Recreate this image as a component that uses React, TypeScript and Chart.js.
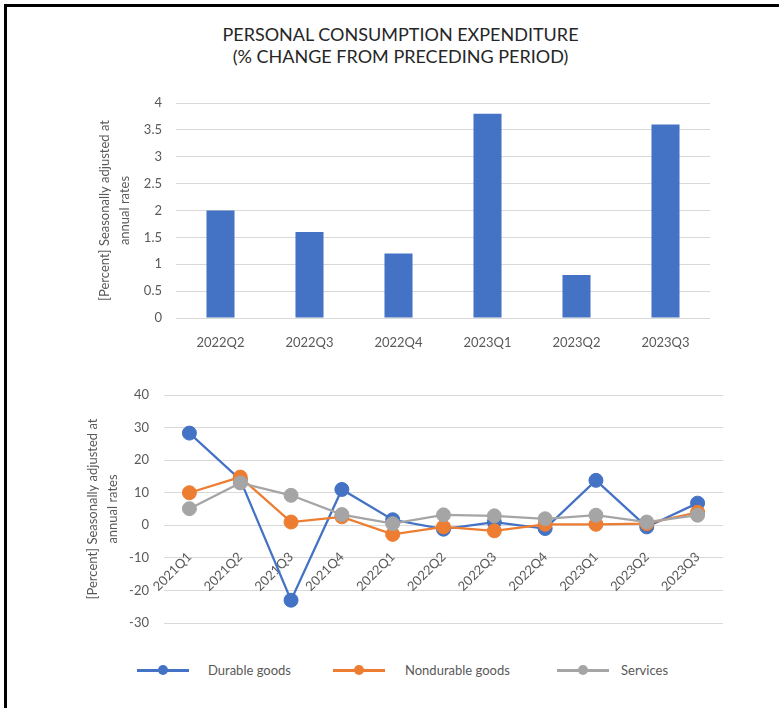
import React, { useEffect, useRef } from "react";
import { Chart, registerables } from "chart.js";
Chart.register(...registerables);

const FONT = 'Lato, "Open Sans", sans-serif';
const TICK_COLOR = "#595959";
const GRID_COLOR = "#D9D9D9";

const titleLines = ["PERSONAL CONSUMPTION EXPENDITURE", "(% CHANGE FROM PRECEDING PERIOD)"];
const axisTitleLines = ["[Percent] Seasonally adjusted at", "annual rates"];

const barCategories = ["2022Q2", "2022Q3", "2022Q4", "2023Q1", "2023Q2", "2023Q3"];
const barValues = [2.0, 1.6, 1.2, 3.8, 0.8, 3.6];
const barAxisMin = 0;
const barAxisMax = 4;
const barAxisStep = 0.5;

const lineCategories = [
  "2021Q1", "2021Q2", "2021Q3", "2021Q4", "2022Q1", "2022Q2",
  "2022Q3", "2022Q4", "2023Q1", "2023Q2", "2023Q3",
];
const durableGoods = [28.3, 14.0, -23.0, 11.0, 1.7, -1.2, 1.0, -1.0, 13.8, -0.5, 6.8];
const nondurableGoods = [10.0, 14.8, 1.0, 2.6, -2.8, -0.5, -1.7, 0.3, 0.3, 0.5, 4.0];
const services = [5.1, 13.0, 9.2, 3.3, 0.5, 3.2, 2.9, 2.0, 3.1, 1.0, 3.1];
const lineAxisMin = -30;
const lineAxisMax = 40;
const lineAxisStep = 10;

const seriesNames = ["Durable goods", "Nondurable goods", "Services"];
const seriesColors = ["#4472C4", "#ED7D31", "#A5A5A5"];

const tickFont = { family: FONT, size: 13 };
const axisTitleFont = { family: FONT, size: 13, lineHeight: 20 / 13 };
const plainNumber = (v: any) => String(Number(v));

function BarChart() {
  const ref = useRef<HTMLCanvasElement | null>(null);
  useEffect(() => {
    if (!ref.current) return;
    const chart = new Chart(ref.current, {
      type: "bar",
      data: {
        labels: barCategories,
        datasets: [
          {
            label: "PCE",
            data: barValues,
            backgroundColor: "#4472C4",
            borderWidth: 0,
            barPercentage: 0.315,
            categoryPercentage: 1,
          },
        ],
      },
      options: {
        animation: false,
        responsive: true,
        maintainAspectRatio: false,
        layout: { padding: { left: 85, top: 103, right: 73, bottom: 0 } },
        plugins: { legend: { display: false }, tooltip: { enabled: false } },
        scales: {
          x: {
            grid: { display: false },
            border: { display: false },
            ticks: { padding: 9, color: TICK_COLOR, font: tickFont },
            afterFit: (s: any) => {
              s.height = 40;
            },
          },
          y: {
            min: barAxisMin,
            max: barAxisMax,
            ticks: {
              stepSize: barAxisStep,
              padding: 14,
              color: TICK_COLOR,
              font: tickFont,
              callback: plainNumber,
            },
            grid: { color: GRID_COLOR, lineWidth: 1, drawTicks: false },
            border: { display: false },
            title: {
              display: true,
              text: axisTitleLines,
              color: TICK_COLOR,
              font: axisTitleFont,
              padding: { top: 10, bottom: 0 },
            },
            afterFit: (s: any) => {
              s.width = 91;
            },
          },
        },
      },
    });
    return () => chart.destroy();
  }, []);
  return (
    <div style={{ position: "absolute", left: 0, top: 0, width: 783, height: 358, zIndex: 2 }}>
      <canvas ref={ref} />
    </div>
  );
}

function LineChart() {
  const ref = useRef<HTMLCanvasElement | null>(null);
  useEffect(() => {
    if (!ref.current) return;
    const seriesData = [durableGoods, nondurableGoods, services];
    const chart = new Chart(ref.current, {
      type: "line",
      data: {
        labels: lineCategories,
        datasets: seriesData.map((d, i) => ({
          label: seriesNames[i],
          data: d,
          borderColor: seriesColors[i],
          backgroundColor: seriesColors[i],
          borderWidth: 2.25,
          pointRadius: 7,
          pointBorderWidth: 1,
          pointBorderColor: seriesColors[i],
          pointBackgroundColor: seriesColors[i],
          tension: 0,
          order: 3 - i,
        })),
      },
      options: {
        animation: false,
        responsive: true,
        maintainAspectRatio: false,
        layout: { padding: { left: 73, top: 45, right: 60, bottom: 85 } },
        plugins: { legend: { display: false }, tooltip: { enabled: false } },
        scales: {
          x: {
            position: { y: 0 } as any,
            offset: true,
            grid: { display: false },
            border: { display: false },
            ticks: {
              autoSkip: false,
              maxRotation: 45,
              minRotation: 45,
              padding: 16,
              color: TICK_COLOR,
              font: tickFont,
            },
          },
          y: {
            min: lineAxisMin,
            max: lineAxisMax,
            ticks: {
              stepSize: lineAxisStep,
              padding: 15,
              color: TICK_COLOR,
              font: tickFont,
              callback: plainNumber,
            },
            grid: { color: GRID_COLOR, lineWidth: 1, drawTicks: false },
            border: { display: false },
            title: {
              display: true,
              text: axisTitleLines,
              color: TICK_COLOR,
              font: axisTitleFont,
              padding: { top: 10, bottom: 0 },
            },
            afterFit: (s: any) => {
              s.width = 91;
            },
          },
        },
      },
    });
    return () => chart.destroy();
  }, []);
  return (
    <div style={{ position: "absolute", left: 0, top: 350, width: 783, height: 358, zIndex: 1 }}>
      <canvas ref={ref} />
    </div>
  );
}

const legendLineLeft = [137, 333, 557];
const legendTextLeft = [208, 405, 621];

function Legend() {
  return (
    <>
      {seriesNames.map((name, i) => (
        <React.Fragment key={name}>
          <div
            style={{
              position: "absolute",
              left: legendLineLeft[i],
              top: 669,
              width: 52,
              height: 2.5,
              background: seriesColors[i],
            }}
          />
          <div
            style={{
              position: "absolute",
              left: legendLineLeft[i] + 26 - 5,
              top: 665,
              width: 10,
              height: 10,
              borderRadius: "50%",
              background: seriesColors[i],
            }}
          />
          <div
            style={{
              position: "absolute",
              left: legendTextLeft[i],
              top: 660,
              height: 20,
              lineHeight: "20px",
              fontFamily: FONT,
              fontSize: 13,
              color: TICK_COLOR,
              whiteSpace: "nowrap",
            }}
          >
            {name}
          </div>
        </React.Fragment>
      ))}
    </>
  );
}

export default function App() {
  return (
    <div
      style={{
        position: "absolute",
        left: 0,
        top: 0,
        width: 783,
        height: 708,
        background: "#fff",
        overflow: "hidden",
      }}
    >
      <div
        style={{
          position: "absolute",
          left: 4,
          top: 4,
          width: 775,
          height: 720,
          borderTop: "3px solid #000",
          borderLeft: "3px solid #000",
          boxSizing: "border-box",
        }}
      />
      <div
        style={{
          position: "absolute",
          left: 9,
          top: 23,
          width: 783,
          textAlign: "center",
          fontFamily: FONT,
          fontSize: 18,
          lineHeight: "22px",
          color: "#262626",
        }}
      >
        {titleLines.map((t) => (
          <div key={t}>{t}</div>
        ))}
      </div>
      <LineChart />
      <BarChart />
      <Legend />
    </div>
  );
}
